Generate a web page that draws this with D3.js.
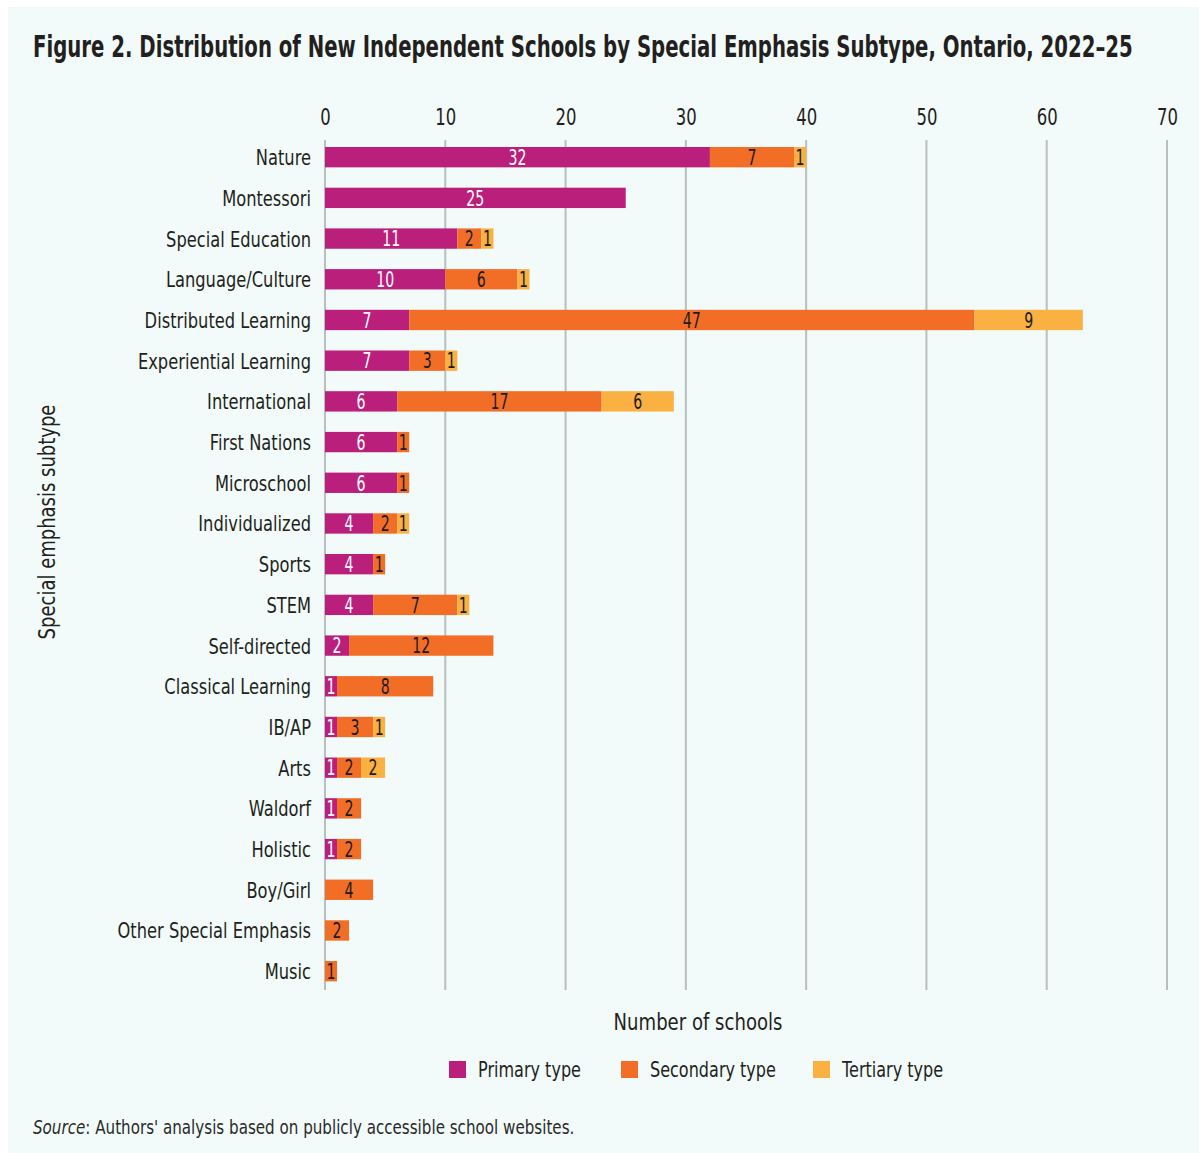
<!DOCTYPE html>
<html>
<head>
<meta charset="utf-8">
<script src="https://cdn.jsdelivr.net/npm/d3@7"></script>
<style>
  html, body { margin: 0; padding: 0; background: #ffffff; }
  svg { display: block; }
  text { font-family: "DejaVu Sans", sans-serif; }
</style>
</head>
<body>
<svg id="chart" width="1199" height="1153"></svg>
<script>
// Special emphasis subtypes, top to bottom
const categories = [
  "Nature", "Montessori", "Special Education", "Language/Culture",
  "Distributed Learning", "Experiential Learning", "International",
  "First Nations", "Microschool", "Individualized", "Sports", "STEM",
  "Self-directed", "Classical Learning", "IB/AP", "Arts", "Waldorf",
  "Holistic", "Boy/Girl", "Other Special Emphasis", "Music"
];
const primaryType   = [32, 25, 11, 10, 7, 7, 6, 6, 6, 4, 4, 4, 2, 1, 1, 1, 1, 1, 0, 0, 0];
const secondaryType = [7, 0, 2, 6, 47, 3, 17, 1, 1, 2, 1, 7, 12, 8, 3, 2, 2, 2, 4, 2, 1];
const tertiaryType  = [1, 0, 1, 1, 9, 1, 6, 0, 0, 1, 0, 1, 0, 0, 1, 2, 0, 0, 0, 0, 0];
const seriesNames = ["Primary type", "Secondary type", "Tertiary type"];
const xTicks = [0, 10, 20, 30, 40, 50, 60, 70];

const colors = ["#bb1f7c", "#f26d26", "#fbb042"];
const labelColors = ["#ffffff", "#1c1c1c", "#1c1c1c"];
const ink = "#231f20";

const rows = categories.map((c, i) => ({
  category: c,
  "Primary type": primaryType[i],
  "Secondary type": secondaryType[i],
  "Tertiary type": tertiaryType[i]
}));
const stacked = d3.stack().keys(seriesNames)(rows);

const svg = d3.select("#chart");

// Condense a group of texts horizontally about their anchor point.
// k is taken from one sample text and the width it should occupy.
function condense(sel, sampleText, targetWidth) {
  let k = 0.75;
  sel.each(function () {
    if (this.textContent === sampleText) k = targetWidth / this.getComputedTextLength();
  });
  sel.each(function () {
    const t = d3.select(this);
    const x0 = +t.attr("x") || 0;
    const prev = t.attr("transform") || "";
    t.attr("transform", `${prev} translate(${x0},0) scale(${k},1) translate(${-x0},0)`);
  });
  return k;
}

// panel background
svg.append("rect")
  .attr("x", 8).attr("y", 7)
  .attr("width", 1199).attr("height", 1153)
  .attr("fill", "#f2fbf9");

const x = d3.scaleLinear().domain([0, 70]).range([325, 1167]);
const y = d3.scaleBand().domain(categories)
  .range([126.65, 1001.7]).paddingInner(0.5).paddingOuter(0.5);

// title
const titleText = "Figure 2. Distribution of New Independent Schools by Special Emphasis Subtype, Ontario, 2022–25";
svg.append("text")
  .attr("x", 33).attr("y", 57)
  .attr("font-size", 31).attr("font-weight", "bold")
  .attr("fill", ink)
  .text(titleText)
  .call(condense, titleText, 1100);

// vertical gridlines
svg.append("g").selectAll("line").data(xTicks).join("line")
  .attr("x1", d => x(d)).attr("x2", d => x(d))
  .attr("y1", 140).attr("y2", 990)
  .attr("stroke", "#b9bfbe").attr("stroke-width", 2);

// top axis labels
const xAxis = d3.axisTop(x).tickValues(xTicks).tickSize(0).tickPadding(0);
const gx = svg.append("g").attr("transform", "translate(0,125)").call(xAxis);
gx.select(".domain").remove();
gx.attr("font-family", null);
gx.selectAll("text")
  .attr("font-size", 23).attr("fill", ink)
  .call(condense, "70", 21);

// stacked bars
const layers = svg.append("g").selectAll("g").data(stacked).join("g")
  .attr("fill", (d, i) => colors[i]);
layers.selectAll("rect").data(d => d.filter(s => s[1] - s[0] > 0)).join("rect")
  .attr("x", d => x(d[0]))
  .attr("y", d => y(d.data.category))
  .attr("width", d => x(d[1]) - x(d[0]))
  .attr("height", y.bandwidth());

// value labels centred in each segment
svg.append("g").selectAll("g").data(stacked).join("g")
  .attr("fill", (d, i) => labelColors[i])
  .selectAll("text").data(d => d.filter(s => s[1] - s[0] > 0)).join("text")
  .attr("x", d => (x(d[0]) + x(d[1])) / 2)
  .attr("y", d => y(d.data.category) + y.bandwidth() / 2)
  .attr("dy", "0.37em")
  .attr("text-anchor", "middle")
  .attr("font-size", 21)
  .text(d => d[1] - d[0])
  .call(condense, "25", 18);

// category labels
const yAxis = d3.axisLeft(y).tickSize(0).tickPadding(0);
const gy = svg.append("g").attr("transform", "translate(311,0)").call(yAxis);
gy.select(".domain").remove();
gy.attr("font-family", null);
gy.selectAll("text")
  .attr("font-size", 22).attr("fill", ink)
  .attr("dy", "0.36em")
  .call(condense, "Special Education", 145);

// axis titles
svg.append("text")
  .attr("transform", "translate(55,522) rotate(-90)")
  .attr("text-anchor", "middle")
  .attr("font-size", 23).attr("fill", ink)
  .text("Special emphasis subtype")
  .call(condense, "Special emphasis subtype", 235);

svg.append("text")
  .attr("x", 698).attr("y", 1030)
  .attr("text-anchor", "middle")
  .attr("font-size", 23).attr("fill", ink)
  .text("Number of schools")
  .call(condense, "Number of schools", 169);

// legend
const legendX = [449, 621, 813];
const legend = svg.append("g").selectAll("g").data(seriesNames).join("g")
  .attr("transform", (d, i) => `translate(${legendX[i]},1061)`);
legend.append("rect")
  .attr("width", 17).attr("height", 17)
  .attr("fill", (d, i) => colors[i]);
legend.append("text")
  .attr("x", 29).attr("y", 8.5).attr("dy", "0.36em")
  .attr("font-size", 22).attr("fill", ink)
  .text(d => d)
  .call(condense, "Secondary type", 126);

// source note
const src = svg.append("text")
  .attr("x", 33).attr("y", 1134)
  .attr("font-size", 20).attr("fill", "#2a2a2a");
src.append("tspan").attr("font-style", "italic").text("Source");
src.append("tspan").text(": Authors' analysis based on publicly accessible school websites.");
src.call(condense, src.text(), 542);
</script>
</body>
</html>
